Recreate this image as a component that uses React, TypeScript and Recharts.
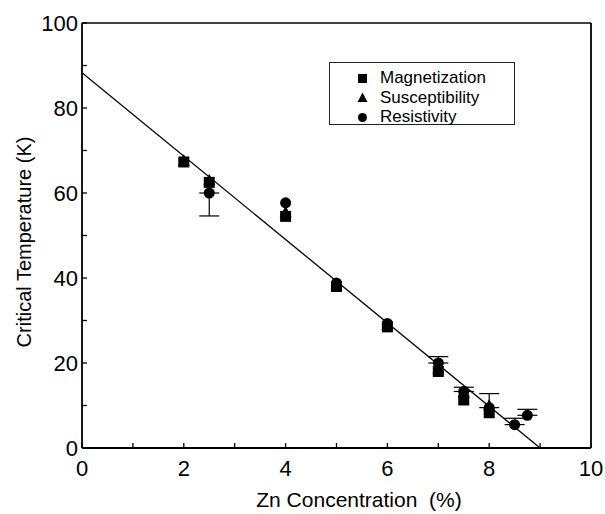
import React from 'react';
import { ScatterChart, Scatter, XAxis, YAxis, ErrorBar } from 'recharts';

const magnetization = [
  { x: 2, y: 67.3 }, { x: 2.5, y: 62.5 }, { x: 4, y: 54.5 }, { x: 5, y: 38 },
  { x: 6, y: 28.5 }, { x: 7, y: 18 }, { x: 7.5, y: 11.3 }, { x: 8, y: 8.3 },
];
const susceptibility = [
  { x: 2, y: 67.6 }, { x: 2.5, y: 63 }, { x: 4, y: 55.5 }, { x: 5, y: 38.5 },
  { x: 6, y: 29 }, { x: 7, y: 18.7 }, { x: 7.5, y: 13 }, { x: 8, y: 10 },
];
const resistivity = [
  { x: 2.5, y: 60, err: [5.4, 0] }, { x: 4, y: 57.7 }, { x: 5, y: 38.8 },
  { x: 6, y: 29.3 }, { x: 7, y: 20, err: [0, 1.5] }, { x: 7.5, y: 13.3, err: [0, 1] },
  { x: 8, y: 9.5, err: [0, 3.3] }, { x: 8.5, y: 5.5, err: [0, 1.5] }, { x: 8.75, y: 7.7, err: [0, 1.4] },
];
const fitLine = [{ x: 0, y: 88.3 }, { x: 9, y: 0 }];
const xTicks = [0, 1, 2, 3, 4, 5, 6, 7, 8, 9, 10];
const yTicks = [0, 10, 20, 30, 40, 50, 60, 70, 80, 90, 100];
const xLabels = [0, 2, 4, 6, 8, 10];
const yLabels = [0, 20, 40, 60, 80, 100];
const seriesNames = ['Magnetization', 'Susceptibility', 'Resistivity'];

const FONT = '"Liberation Sans", Arial, Helvetica, sans-serif';

const Square = (p: any) => <rect x={p.cx - 5.5} y={p.cy - 5.5} width={11} height={11} fill="#000" />;
const Triangle = (p: any) => (
  <polygon points={`${p.cx},${p.cy - 6.5} ${p.cx + 6},${p.cy + 5} ${p.cx - 6},${p.cy + 5}`} fill="#000" />
);
const Circle = (p: any) => <circle cx={p.cx} cy={p.cy} r={5.5} fill="#000" />;

const XTick = (p: any) => {
  const v = p.payload.value;
  return (
    <g>
      <line x1={p.x} y1={p.y} x2={p.x} y2={p.y - 5} stroke="#000" strokeWidth={1.3} />
      {xLabels.includes(v) && (
        <text x={p.x} y={p.y + 28} textAnchor="middle" fontSize={22} fontFamily={FONT} fill="#000">{v}</text>
      )}
    </g>
  );
};
const YTick = (p: any) => {
  const v = p.payload.value;
  return (
    <g>
      <line x1={p.x} y1={p.y} x2={p.x + 5} y2={p.y} stroke="#000" strokeWidth={1.3} />
      {yLabels.includes(v) && (
        <text x={p.x - 4} y={p.y + 8} textAnchor="end" fontSize={22} fontFamily={FONT} fill="#000">{v}</text>
      )}
    </g>
  );
};

const legendMarks = [
  <rect key="s" x={2} y={2} width={9} height={9} fill="#000" />,
  <polygon key="t" points="6.5,1.5 11.5,11 1.5,11" fill="#000" />,
  <circle key="c" cx={6.5} cy={6.5} r={4.5} fill="#000" />,
];

export default function App() {
  return (
    <div style={{ position: 'absolute', left: 0, top: 0, width: 605, height: 514, background: '#fff' }}>
      <ScatterChart width={605} height={514} margin={{ top: 22, right: 13, bottom: 40, left: 0 }}>
        <XAxis
          xAxisId="b" type="number" dataKey="x" domain={[0, 10]} ticks={xTicks} interval={0}
          height={26} tickSize={0} tickMargin={0} tickLine={false}
          axisLine={{ stroke: '#000', strokeWidth: 1.8 }} tick={<XTick />}
        />
        <XAxis
          xAxisId="t" orientation="top" type="number" domain={[0, 10]} height={1}
          tick={false} tickLine={false} axisLine={{ stroke: '#000', strokeWidth: 1.6 }}
        />
        <YAxis
          yAxisId="l" type="number" dataKey="y" domain={[0, 100]} ticks={yTicks} interval={0}
          width={82} tickSize={0} tickMargin={0} tickLine={false}
          axisLine={{ stroke: '#000', strokeWidth: 1.8 }} tick={<YTick />}
        />
        <YAxis
          yAxisId="r" orientation="right" type="number" domain={[0, 100]} width={1}
          tick={false} tickLine={false} axisLine={{ stroke: '#000', strokeWidth: 1.8 }}
        />
        <Scatter xAxisId="b" yAxisId="l" data={fitLine} line={{ stroke: '#000', strokeWidth: 1.3 }} shape={() => null} isAnimationActive={false} />
        <Scatter xAxisId="b" yAxisId="l" data={resistivity} shape={<Circle />} isAnimationActive={false}>
          <ErrorBar dataKey="err" direction="y" width={10} stroke="#000" strokeWidth={1.2} />
        </Scatter>
        <Scatter xAxisId="b" yAxisId="l" data={magnetization} shape={<Square />} isAnimationActive={false} />
        <Scatter xAxisId="b" yAxisId="l" data={susceptibility} shape={<Triangle />} isAnimationActive={false} />
      </ScatterChart>
      <svg width={605} height={514} style={{ position: 'absolute', left: 0, top: 0, pointerEvents: 'none' }}>
        <text x={24} y={242} transform="rotate(-90 24 242)" textAnchor="middle" dominantBaseline="central"
          fontSize={20} fontFamily={FONT} fill="#000">Critical Temperature (K)</text>
        <text x={359} y={507} textAnchor="middle" fontSize={21} fontFamily={FONT} fill="#000"
          style={{ whiteSpace: 'pre' }} xmlSpace="preserve">Zn Concentration  (%)</text>
      </svg>
      <div style={{
        position: 'absolute', left: 329, top: 62, width: 186, height: 63, border: '1.3px solid #222',
        boxSizing: 'border-box', fontFamily: FONT, fontSize: 17, color: '#000',
      }}>
        {seriesNames.map((n, i) => (
          <div key={n} style={{ position: 'absolute', left: 26, top: 5 + i * 19.5, height: 20, display: 'flex', alignItems: 'center' }}>
            <svg width={13} height={13} style={{ marginRight: 11 }}>{legendMarks[i]}</svg>
            <span>{n}</span>
          </div>
        ))}
      </div>
    </div>
  );
}
